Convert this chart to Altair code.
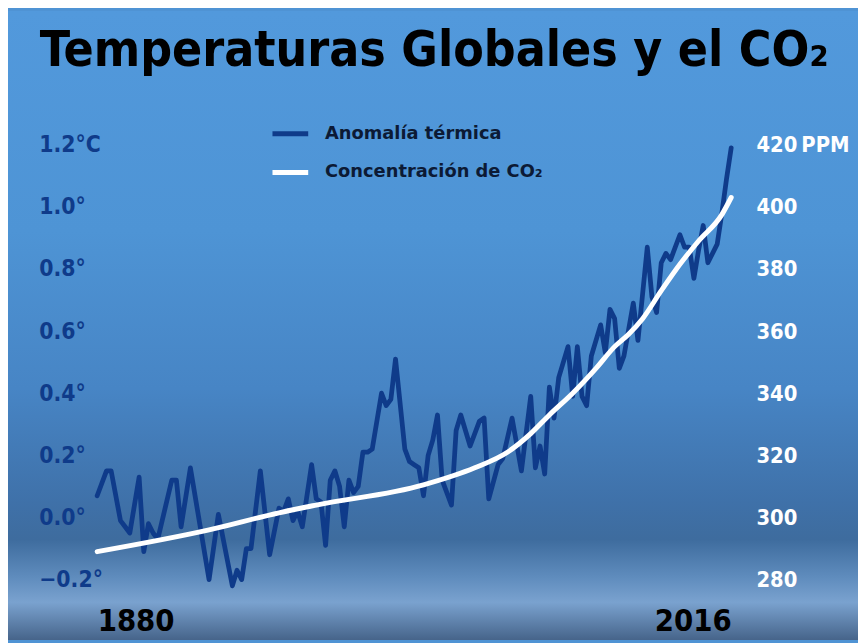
import altair as alt
import pandas as pd

# --- data ---
temp_years = [1880,1882,1883,1885,1886,1887,1889,1890,1891,1892,
              1893,1896,1897,1898,1900,1904,1906,1909,1910,1911,
              1912,1913,1915,1917,1919,1920,1921,1922,1923,1924,
              1926,1927,1928,1929,1930,1931,1932,1933,1934,1935,
              1936,1937,1938,1939,1941,1942,1943,1944,1946,1947,
              1948,1949,1950,1951,1952,1953,1954,1956,1957,1958,
              1960,1962,1963,1964,1966,1967,1969,1971,1973,1974,
              1975,1976,1977,1978,1979,1981,1982,1983,1984,1985,
              1986,1988,1989,1990,1991,1992,1993,1995,1996,1998,
              1999,2000,2001,2002,2003,2005,2006,2007,2008,2009,
              2010,2011,2013,2014,2015,2016]
temp_vals = [0.07,0.15,0.15,-0.01,-0.03,-0.05,0.13,-0.11,-0.02,-0.05,
             -0.07,0.12,0.12,-0.03,0.16,-0.20,0.01,-0.22,-0.17,-0.20,
             -0.10,-0.10,0.15,-0.12,0.03,0.02,0.06,-0.01,0.02,-0.03,
             0.17,0.06,0.05,-0.09,0.12,0.15,0.10,-0.03,0.12,0.08,
             0.10,0.21,0.21,0.22,0.40,0.36,0.38,0.51,0.22,0.18,
             0.17,0.16,0.07,0.20,0.25,0.33,0.12,0.04,0.28,0.33,
             0.23,0.31,0.32,0.06,0.17,0.19,0.32,0.15,0.39,0.16,
             0.23,0.14,0.42,0.32,0.45,0.55,0.39,0.55,0.39,0.36,
             0.52,0.62,0.53,0.67,0.64,0.48,0.52,0.69,0.57,0.87,
             0.71,0.66,0.82,0.85,0.83,0.91,0.87,0.87,0.77,0.86,
             0.94,0.82,0.88,0.98,1.09,1.19]

co2_years = [1880,1904,1919,1927,1950,1961,1968,1973,1977,1982,
             1987,1991,1994,1997,2001,2005,2009,2014,2016]
co2_ppm = [289,296,301.5,304,310.5,316,321,327,333,340,
           348,355,359,364,373,381.5,389,397.5,403]

series_names = ["Anomalía térmica", "Concentración de CO₂"]
temp_ticks = [-0.2, 0.0, 0.2, 0.4, 0.6, 0.8, 1.0, 1.2]
co2_ticks = [280, 300, 320, 340, 360, 380, 400, 420]
year_ticks = [1880, 2016]

temp_df = pd.DataFrame({"year": temp_years, "value": temp_vals, "serie": series_names[0]})
co2_df = pd.DataFrame({"year": co2_years, "value": co2_ppm, "serie": series_names[1]})

W, H = 640, 439
PL, PT, PR, PB = 90, 135, 128, 61

NAVY = "#0f3b8a"
COND = "DejaVu Sans Condensed, Roboto, sans-serif"

color = alt.Color(
    "serie:N",
    scale=alt.Scale(domain=series_names, range=[NAVY, "white"]),
    legend=alt.Legend(
        title=None, orient="none", legendX=174, legendY=-32, zindex=2,
        symbolType="stroke", symbolStrokeWidth=5, symbolSize=1300,
        labelFont="DejaVu Sans", labelFontWeight=700, labelFontSize=18,
        labelColor="#0c1a35", labelOffset=14, rowPadding=8, labelLimit=400,
    ),
)

x_enc = alt.X(
    "year:Q",
    scale=alt.Scale(domain=[1880, 2016], nice=False),
    axis=alt.Axis(values=year_ticks, format="d", title=None, labelFlush=True, zindex=2,
                  labelFont=COND, labelFontWeight="bold", labelFontSize=31,
                  labelColor="black", labelPadding=42, labelBaseline="middle"),
)

bg = alt.Chart(pd.DataFrame({"k": [0]})).mark_rect(
    fill=alt.LinearGradient(
        gradient="linear", x1=0, x2=0, y1=0, y2=1,
        stops=[
            alt.GradientStop(color="#5299dc", offset=0.0),
            alt.GradientStop(color="#4e94d5", offset=0.35),
            alt.GradientStop(color="#4785c5", offset=0.6),
            alt.GradientStop(color="#3f71a9", offset=0.78),
            alt.GradientStop(color="#3e6c9e", offset=0.84),
            alt.GradientStop(color="#5f8cbd", offset=0.9),
            alt.GradientStop(color="#7aa2cf", offset=0.94),
            alt.GradientStop(color="#46648a", offset=1.0),
        ],
    )
).encode(
    x=alt.value(-PL), x2=alt.value(W + PR),
    y=alt.value(-PT), y2=alt.value(H + PB),
)

temp_line = alt.Chart(temp_df).mark_line(
    strokeWidth=4.8, strokeJoin="round", strokeCap="round"
).encode(
    x=x_enc,
    y=alt.Y("value:Q", scale=alt.Scale(domain=[-0.2, 1.2], nice=False, zero=False),
            axis=alt.Axis(orient="left", values=temp_ticks, title=None, zindex=2,
                          labelExpr="abs(datum.value-1.2)<0.001 ? '1.2°C' : format(datum.value,'.1f') + '°'",
                          labelFont=COND, labelFontWeight="bold", labelFontSize=23,
                          labelColor=NAVY, labelAlign="left", labelPadding=59)),
    color=color,
)

co2_line = alt.Chart(co2_df).mark_line(
    strokeWidth=5, interpolate="monotone", strokeCap="round"
).encode(
    x=alt.X("year:Q", scale=alt.Scale(domain=[1880, 2016], nice=False)),
    y=alt.Y("value:Q", scale=alt.Scale(domain=[280, 420], nice=False, zero=False),
            axis=alt.Axis(orient="right", values=co2_ticks, title=None, zindex=2,
                          labelExpr="datum.value==420 ? '420\u2009PPM' : datum.label",
                          labelFont=COND, labelFontWeight="bold", labelFontSize=22,
                          labelColor="white", labelAlign="left", labelPadding=25)),
    color=color,
)

chart = alt.layer(bg, temp_line, co2_line).resolve_scale(y="independent").properties(
    width=W, height=H,
    autosize=alt.AutoSizeParams(type="none"),
    padding={"left": PL, "top": PT, "right": PR, "bottom": PB},
    background="#4f93d4",
    title=alt.TitleParams(
        text="Temperaturas Globales y el CO₂",
        font=COND, fontWeight="bold", fontSize=50, color="black",
        anchor="start", frame="group", dx=-58, offset=-66, zindex=2,
    ),
).configure_view(stroke=None).configure_axis(
    domain=False, ticks=False, grid=False
)

chart.save("out.html", embed_options={"renderer": "svg", "actions": False})
